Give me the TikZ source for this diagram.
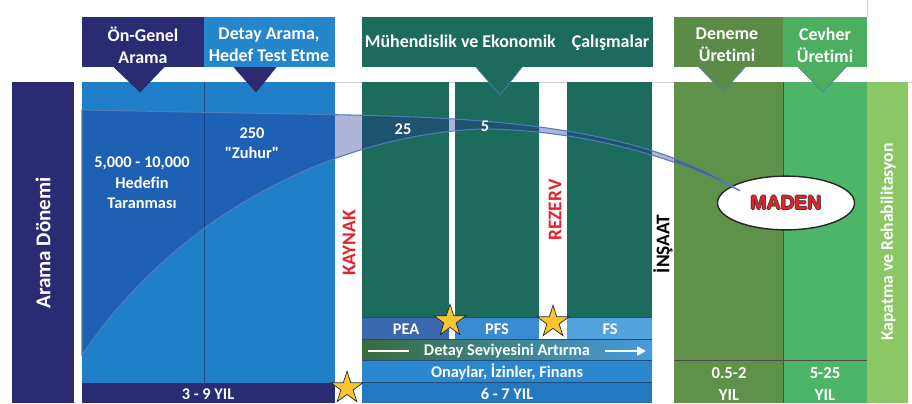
\documentclass[tikz,border=0pt]{standalone}
\usepackage{fontspec}
\setmainfont{Carlito}[Ligatures={NoCommon,TeXOff}]
\newfontfamily\arialfont{Liberation Sans}
\usetikzlibrary{shapes.geometric,arrows.meta}

\definecolor{lacivert}{HTML}{2A2B72}
\definecolor{mavi}{HTML}{1F80C8}
\definecolor{mavibaslik}{HTML}{2686CC}
\definecolor{yesilkoyu}{HTML}{1C6B5D}
\definecolor{zeytin}{HTML}{5E9149}
\definecolor{zeytinbaslik}{HTML}{5A8C47}
\definecolor{yesil}{HTML}{4DB567}
\definecolor{yesilbaslik}{HTML}{4CAF60}
\definecolor{acikyesil}{HTML}{8BC865}
\definecolor{pea}{HTML}{3B67AF}
\definecolor{pfs}{HTML}{3A8AD2}
\definecolor{fs}{HTML}{52A2DE}
\definecolor{detaysol}{HTML}{3A6B3B}
\definecolor{detaysag}{HTML}{479BDE}
\definecolor{onay}{HTML}{2D87CF}
\definecolor{yil}{HTML}{2378C0}
\definecolor{huni}{HTML}{1D288F}
\definecolor{hunicizgi}{HTML}{4F7DB8}
\definecolor{cizgi}{HTML}{1E4E7E}
\definecolor{kirmizi}{HTML}{E8202A}
\definecolor{yildiz}{HTML}{F7C530}

% kenarli kirmizi yazi
\newcommand{\kenarli}[1]{%
  \leavevmode\rlap{\raisebox{0.5pt}{\color{black!75}#1}}%
  \rlap{\raisebox{-0.5pt}{\color{black!75}#1}}%
  \rlap{\hspace{0.5pt}\color{black!75}#1}%
  \rlap{\hspace{-0.5pt}\color{black!75}#1}%
  {\color{kirmizi}#1}}

\begin{document}
\begin{tikzpicture}[x=0.02cm, y=-0.02cm,
    yazi/.style={text=white, font=\bfseries\fontsize{9.3}{11.6}\selectfont, align=center, inner sep=0},
    baslik/.style={yazi, font=\bfseries\fontsize{10.2}{12.5}\selectfont},
    dikey/.style={font=\bfseries\fontsize{11}{13}\selectfont, rotate=90, inner sep=0},
    yildizim/.style={star, star points=5, star point ratio=2.6, fill=yildiz, draw=black!85, thin, minimum size=19pt, inner sep=0}]
    \useasboundingbox (0,0) rectangle (912,403);

    % Cerco
    \draw[gray!35, thin] (335,82) -- (912,82);
    \draw[gray!35, thin] (867,0) -- (867,17);

    % Columnas izquierda
    \fill[lacivert] (12,82) rectangle (74,403);
    \fill[mavi] (82,82) rectangle (335,383);
    \draw[cizgi, thin] (204,82) -- (204,383);
    \fill[lacivert] (82,383) rectangle (335,403);

    % Columnas centro
    \foreach \a/\b in {362/449, 455/539, 567/652}
        \fill[yesilkoyu] (\a,82) rectangle (\b,317);
    \fill[pea] (362,317) rectangle (449,339);
    \fill[pfs] (455,317) rectangle (539,339);
    \fill[fs] (567,317) rectangle (652,339);
    \shade[left color=detaysol, right color=detaysag] (362,339) rectangle (652,360);
    \fill[onay] (362,360) rectangle (652,382);
    \fill[yil] (362,382) rectangle (652,403);
    \foreach \y in {317, 339, 360, 382}
        \draw[cizgi, thin] (362,\y) -- (652,\y);

    % Columnas derecha
    \fill[zeytin] (674,82) rectangle (783,403);
    \fill[yesil] (783,82) rectangle (867,403);
    \fill[acikyesil] (867,82) rectangle (908,403);
    \draw[black!70, thin] (783,82) -- (783,403);
    \draw[black!70, thin] (674,360) -- (867,360);

    % Triangulos
    \filldraw[fill=lacivert, draw=lacivert] (113,66) -- (165,66) -- (140,92) -- cycle;
    \filldraw[fill=lacivert, draw=lacivert] (233,66) -- (277,66) -- (256,92) -- cycle;
    \filldraw[fill=yesilkoyu, draw=hunicizgi] (475,66) -- (523,66) -- (500,95) -- cycle;
    \filldraw[fill=zeytinbaslik, draw=hunicizgi] (698,66) -- (746,66) -- (723,92) -- cycle;
    \filldraw[fill=yesilbaslik, draw=hunicizgi] (797,66) -- (847,66) -- (823,92) -- cycle;

    % Cabeceras
    \fill[lacivert] (82,17) rectangle (204,67);
    \fill[mavibaslik] (204,17) rectangle (335,67);
    \fill[yesilkoyu] (362,17) rectangle (653,67);
    \fill[zeytinbaslik] (674,17) rectangle (783,67);
    \fill[yesilbaslik] (783,17) rectangle (867,67);
    \node[baslik] (ongenel) at (143,45) {Ön-Genel\\Arama};
    \node[baslik] (detayarama) at (269,45) {Detay Arama,\\Hedef Test Etme};
    \node[baslik] (muhendislik) at (507,43) {Mühendislik ve Ekonomik\hspace{0.9em}Çalışmalar};
    \node[baslik] (deneme) at (727,45) {Deneme\\Üretimi};
    \node[baslik] (cevher) at (825,45) {Cevher\\Üretimi};

    % Elipse
    \node[ellipse, fill=white, draw=black!85, line width=0.8pt, minimum width=78pt, minimum height=30.6pt,
          font=\arialfont\bfseries\fontsize{11}{13}\selectfont] (maden) at (786,203) {\kenarli{MADEN}};

    % Embudo
    \filldraw[fill=huni, fill opacity=0.35, draw=hunicizgi, line width=0.6pt]
        (82,110) -- (350,115) .. controls (480,118) and (640,125) .. (740,191)
        .. controls (680,158) and (580,129) .. (480,129)
        .. controls (340,135) and (180,210) .. (82,355) -- cycle;

    % Textos
    \node[yazi] (hedef) at (142,183) {5,000 - 10,000\\Hedefin\\Taranması};
    \node[yazi] (zuhur) at (252,143) {250\\"Zuhur"};
    \node[yazi] (yirmibes) at (403,129) {25};
    \node[yazi] (bes) at (485,126) {5};
    \node[yazi] (ucdokuz) at (208,394) {3 - 9 YIL};
    \node[yazi] (peayazi) at (406,329) {PEA};
    \node[yazi] (pfsyazi) at (497,329) {PFS};
    \node[yazi] (fsyazi) at (610,329) {FS};
    \node[yazi, inner xsep=8.5pt] (detay) at (507,351) {Detay Seviyesini Artırma};
    \node[yazi] (onaylar) at (507,372) {Onaylar, İzinler, Finans};
    \node[yazi] (altiyedi) at (507,394) {6 - 7 YIL};
    \node[yazi, font=\bfseries\fontsize{9.5}{12.5}\selectfont] (denemeyil) at (729,384) {0.5-2\\YIL};
    \node[yazi, font=\bfseries\fontsize{9.5}{12.5}\selectfont] (cevheryil) at (825,384) {5-25\\YIL};

    % Flecha
    \coordinate (okbas) at (368,351);
    \coordinate (okson) at (646,351);
    \draw[white, line width=1.5pt] (okbas) -- (detay.west);
    \draw[white, line width=1.5pt, -{Triangle[length=5pt, width=5pt]}] (detay.east) -- (okson);

    % Textos verticales
    \node[yazi, rotate=90, font=\bfseries\fontsize{12}{14}\selectfont] (aramadonemi) at (43,243) {Arama Dönemi};
    \node[dikey, text=kirmizi] (kaynak) at (349,243) {KAYNAK};
    \node[dikey, text=kirmizi] (rezerv) at (555,210) {REZERV};
    \node[dikey, text=black] (insaat) at (663,244) {İNŞAAT};
    \node[yazi, rotate=90, font=\bfseries\fontsize{10}{12}\selectfont] (kapatma) at (888,242) {Kapatma ve Rehabilitasyon};

    % Estrellas
    \node[yildizim] (yildiz1) at (347,388) {};
    \node[yildizim] (yildiz2) at (450,321) {};
    \node[yildizim] (yildiz3) at (553,322) {};
\end{tikzpicture}
\end{document}
